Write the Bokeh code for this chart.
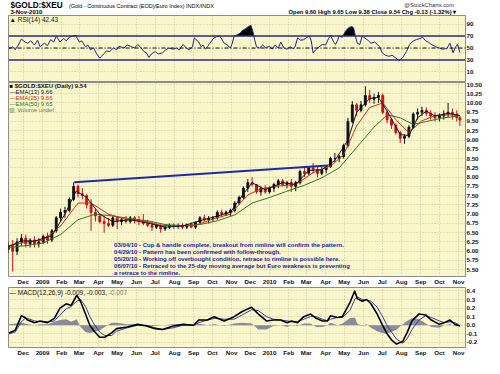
import numpy as np
import pandas as pd
from bokeh.plotting import figure
from bokeh.layouts import column
from bokeh.models import (Range1d, FixedTicker, Grid, Span, Label, NumeralTickFormatter,
                          CustomJSTickFormatter, ColumnDataSource)
from bokeh.embed import file_html
from bokeh.resources import INLINE

# ---------------- data ----------------
wk_dates = ["2008-11-07","2008-11-14","2008-11-21","2008-11-28","2008-12-05","2008-12-12","2008-12-19","2008-12-26",
            "2009-01-02","2009-01-09","2009-01-16","2009-01-23","2009-01-30","2009-02-06","2009-02-13","2009-02-20","2009-02-27",
            "2009-03-06","2009-03-13","2009-03-20","2009-03-27","2009-04-03","2009-04-10","2009-04-17","2009-04-24",
            "2009-05-01","2009-05-08","2009-05-15","2009-05-22","2009-05-29","2009-06-05","2009-06-12","2009-06-19","2009-06-26",
            "2009-07-03","2009-07-10","2009-07-17","2009-07-24","2009-07-31","2009-08-07","2009-08-14","2009-08-21","2009-08-28",
            "2009-09-04","2009-09-11","2009-09-18","2009-09-25","2009-10-02","2009-10-09","2009-10-16","2009-10-23","2009-10-30",
            "2009-11-06","2009-11-13","2009-11-20","2009-11-27","2009-12-04","2009-12-11","2009-12-18","2009-12-25",
            "2010-01-01","2010-01-08","2010-01-15","2010-01-22","2010-01-29","2010-02-05","2010-02-12","2010-02-19","2010-02-26",
            "2010-03-05","2010-03-12","2010-03-19","2010-03-26","2010-04-02","2010-04-09","2010-04-16","2010-04-23","2010-04-30",
            "2010-05-07","2010-05-14","2010-05-21","2010-05-28","2010-06-04","2010-06-11","2010-06-18","2010-06-25",
            "2010-07-02","2010-07-09","2010-07-16","2010-07-23","2010-07-30","2010-08-06","2010-08-13","2010-08-20","2010-08-27",
            "2010-09-03","2010-09-10","2010-09-17","2010-09-24","2010-10-01","2010-10-08","2010-10-15","2010-10-22","2010-10-29",
            "2010-11-03"]
wk_open = [6.05,6.15,6.00,6.25,6.35,6.20,6.30,6.20,
           6.25,6.40,6.30,6.55,6.90,7.05,7.10,7.40,7.75,
           7.55,7.50,7.25,7.05,6.95,6.80,6.75,6.70,
           6.90,6.80,6.85,6.80,6.90,6.85,6.80,6.75,6.70,
           6.65,6.70,6.60,6.65,6.70,6.68,6.70,6.65,6.72,
           6.65,6.78,6.90,6.85,6.88,6.90,7.05,7.00,7.05,
           7.10,7.30,7.45,7.70,7.85,7.80,7.60,7.70,
           7.60,7.70,7.80,7.90,7.80,7.85,7.75,7.85,8.15,
           8.10,8.25,8.20,8.10,8.20,8.28,8.50,8.50,8.55,
           8.85,9.50,9.95,9.80,9.95,10.20,10.10,10.15,
           10.20,9.75,9.55,9.40,9.20,9.05,9.10,9.35,9.70,
           9.75,9.80,9.72,9.65,9.60,9.65,9.70,9.75,9.70,
           9.60]
wk_high = [6.25,6.30,6.35,6.46,6.45,6.35,6.40,6.35,
           6.45,6.50,6.60,6.95,7.15,7.20,7.45,7.86,7.80,
           7.70,7.55,7.40,7.15,7.00,6.95,6.90,6.95,
           6.95,6.90,6.95,6.95,6.95,6.95,7.00,6.85,6.80,
           6.75,6.72,6.70,6.75,6.75,6.75,6.75,6.75,6.78,
           6.80,6.95,6.98,6.95,6.95,7.10,7.12,7.10,7.15,
           7.35,7.50,7.75,7.95,8.00,7.80,7.75,7.78,
           7.75,7.85,7.95,7.95,7.90,7.95,7.90,8.20,8.30,
           8.30,8.38,8.30,8.28,8.32,8.55,8.65,8.60,8.90,
           9.60,10.05,10.00,10.05,10.45,10.35,10.25,10.30,
           10.25,9.80,9.60,9.45,9.25,9.15,9.40,9.75,9.85,
           9.90,9.88,9.80,9.75,9.72,9.80,10.00,9.85,9.80,
           9.65]
wk_low = [5.95,5.45,5.90,6.15,6.10,6.10,6.10,6.10,
          6.20,6.20,6.25,6.50,6.80,6.90,7.05,7.35,7.45,
          7.40,7.15,6.55,6.80,6.75,6.50,6.65,6.65,
          6.60,6.70,6.75,6.75,6.75,6.70,6.70,6.65,6.55,
          6.60,6.50,6.55,6.60,6.60,6.60,6.60,6.60,6.62,
          6.60,6.75,6.80,6.75,6.80,6.85,6.92,6.95,6.95,
          7.05,7.25,7.40,7.60,7.75,7.55,7.50,7.55,
          7.55,7.60,7.70,7.75,7.70,7.60,7.62,7.80,8.00,
          8.05,8.10,8.00,8.05,8.10,8.25,8.40,8.40,8.50,
          8.80,9.45,9.65,9.75,9.90,10.00,9.98,10.00,
          9.70,9.45,9.30,9.15,8.92,8.90,9.05,9.30,9.55,
          9.65,9.65,9.55,9.50,9.50,9.55,9.60,9.55,9.50,
          9.38]
wk_close = [6.15,6.00,6.25,6.35,6.20,6.30,6.20,6.25,
            6.40,6.30,6.55,6.90,7.05,7.10,7.40,7.75,7.55,
            7.50,7.25,7.05,6.95,6.80,6.75,6.70,6.90,
            6.80,6.85,6.80,6.90,6.85,6.80,6.75,6.70,6.65,
            6.70,6.60,6.65,6.70,6.68,6.70,6.65,6.72,6.65,
            6.78,6.90,6.85,6.88,6.90,7.05,7.00,7.05,7.10,
            7.30,7.45,7.70,7.85,7.80,7.60,7.70,7.60,
            7.70,7.80,7.90,7.80,7.85,7.75,7.85,8.15,8.10,
            8.25,8.20,8.10,8.20,8.28,8.50,8.50,8.55,8.85,
            9.50,9.95,9.80,9.95,10.20,10.10,10.15,10.20,
            9.75,9.55,9.40,9.20,9.05,9.10,9.35,9.70,9.75,
            9.80,9.72,9.65,9.60,9.65,9.70,9.75,9.70,9.60,
            9.54]

ema13_dates = ["2008-11-07","2008-11-28","2008-12-19","2009-01-16","2009-02-06","2009-02-24","2009-03-13","2009-04-03",
               "2009-04-24","2009-05-22","2009-06-19","2009-07-17","2009-08-14","2009-09-11","2009-10-09","2009-10-30",
               "2009-11-20","2009-12-04","2009-12-25","2010-01-22","2010-02-12","2010-03-05","2010-03-26","2010-04-16",
               "2010-05-07","2010-05-21","2010-06-11","2010-06-25","2010-07-09","2010-07-30","2010-08-13","2010-08-27",
               "2010-09-10","2010-09-24","2010-10-15","2010-11-03"]
ema13 = [6.12,6.28,6.27,6.42,7.00,7.62,7.45,7.00,
         6.80,6.85,6.76,6.65,6.68,6.82,6.95,7.05,
         7.55,7.85,7.66,7.85,7.80,8.18,8.20,8.45,
         9.00,9.75,10.12,10.15,9.78,9.15,9.12,9.60,
         9.78,9.65,9.72,9.66]
ema25_dates = ["2008-11-07","2008-12-05","2009-01-02","2009-01-30","2009-02-27","2009-03-20","2009-04-17","2009-05-15",
               "2009-06-12","2009-07-10","2009-08-07","2009-09-04","2009-10-02","2009-10-30","2009-11-27","2009-12-18",
               "2010-01-15","2010-02-12","2010-03-12","2010-04-09","2010-04-30","2010-05-21","2010-06-11","2010-07-02",
               "2010-07-23","2010-08-13","2010-09-03","2010-09-24","2010-10-15","2010-11-03"]
ema25 = [6.15,6.25,6.30,6.68,7.30,7.30,7.00,6.86,
         6.82,6.70,6.68,6.70,6.87,7.00,7.52,7.68,
         7.76,7.80,8.12,8.30,8.60,9.38,9.88,10.00,
         9.55,9.20,9.52,9.66,9.68,9.66]
ema50_dates = ["2008-11-07","2008-12-05","2009-01-02","2009-01-30","2009-02-27","2009-03-27","2009-04-24","2009-05-22",
               "2009-06-19","2009-07-17","2009-08-14","2009-09-11","2009-10-09","2009-11-06","2009-12-04","2010-01-01",
               "2010-01-29","2010-02-26","2010-03-26","2010-04-23","2010-05-21","2010-06-18","2010-07-09","2010-07-30",
               "2010-08-20","2010-09-10","2010-10-08","2010-11-03"]
ema50 = [6.10,6.15,6.22,6.45,6.85,7.00,6.95,6.88,
         6.82,6.72,6.69,6.72,6.82,6.98,7.30,7.45,
         7.62,7.78,7.98,8.25,8.80,9.35,9.68,9.60,
         9.42,9.50,9.60,9.65]

rim_dates = ["2009-02-21", "2010-04-05"]
rim_values = [7.86, 8.31]

notes = ["03/04/10 - Cup & handle complete, breakout from rimline will confirm the pattern.",
         "04/29/10 - Pattern has been confirmed with follow-through.",
         "05/20/10 - Working off overbought condition, retrace to rimline is possible here.",
         "06/07/10 - Retraced to the 25-day moving average but Euro weakness is preventing",
         "a retrace to the rimline."]
note_date = "2009-04-26"
note_levels = [6.18, 5.985, 5.79, 5.595, 5.40]

rsi_dates = ["2008-11-08","2008-11-14","2008-11-18","2008-11-23","2008-11-28","2008-12-04","2008-12-08","2008-12-13","2008-12-19","2008-12-24","2008-12-28",
             "2009-01-04","2009-01-09","2009-01-14","2009-01-19","2009-01-23","2009-01-29",
             "2009-02-04","2009-02-08","2009-02-13","2009-02-18","2009-02-23","2009-02-26",
             "2009-03-01","2009-03-05","2009-03-11","2009-03-15","2009-03-19","2009-03-24","2009-03-29",
             "2009-04-03","2009-04-06","2009-04-09","2009-04-14","2009-04-19","2009-04-25","2009-04-30",
             "2009-05-04","2009-05-12","2009-05-17","2009-05-22","2009-05-29",
             "2009-06-03","2009-06-07","2009-06-13","2009-06-17","2009-06-21","2009-06-25",
             "2009-07-01","2009-07-06","2009-07-13","2009-07-18","2009-07-23","2009-07-30",
             "2009-08-04","2009-08-09","2009-08-15","2009-08-20","2009-08-25","2009-08-30",
             "2009-09-02","2009-09-05","2009-09-09","2009-09-13","2009-09-16","2009-09-20","2009-09-23","2009-09-27",
             "2009-10-02","2009-10-07","2009-10-12","2009-10-15","2009-10-20","2009-10-25","2009-10-30",
             "2009-11-02","2009-11-05","2009-11-10","2009-11-15","2009-11-18","2009-11-23","2009-11-28",
             "2009-12-02","2009-12-05","2009-12-08","2009-12-11","2009-12-16","2009-12-21","2009-12-26",
             "2010-01-01","2010-01-05","2010-01-10","2010-01-15","2010-01-19","2010-01-24","2010-01-29",
             "2010-02-03","2010-02-08","2010-02-11","2010-02-15","2010-02-20","2010-02-25",
             "2010-03-02","2010-03-06","2010-03-09","2010-03-12","2010-03-17","2010-03-23","2010-03-27",
             "2010-04-01","2010-04-06","2010-04-09","2010-04-14","2010-04-17","2010-04-20","2010-04-23","2010-04-28",
             "2010-05-03","2010-05-08","2010-05-13","2010-05-16","2010-05-19","2010-05-22","2010-05-26","2010-05-30",
             "2010-06-04","2010-06-08","2010-06-13","2010-06-19","2010-06-23","2010-06-27",
             "2010-07-01","2010-07-06","2010-07-12","2010-07-17","2010-07-23","2010-07-28",
             "2010-08-03","2010-08-09","2010-08-14","2010-08-20","2010-08-25","2010-08-31",
             "2010-09-04","2010-09-09","2010-09-13","2010-09-18","2010-09-25",
             "2010-10-01","2010-10-06","2010-10-13","2010-10-18","2010-10-23","2010-10-26","2010-10-30",
             "2010-11-03"]
rsi_values = [49,52,47,55,65,60,58,62,55,63,52,
              58,54,64,60,70,60,
              66,62,68,70,71,66,
              60,62,52,55,47,50,40,
              33,36,40,45,44,50,47,
              53,50,55,53,50,
              56,52,44,42,34,40,
              44,40,42,47,50,48,
              50,47,56,50,47,52,
              67,64,60,52,55,48,52,58,
              65,69,70,67,58,55,50,
              58,70,72,75,79,82,86,
              88,78,64,52,50,55,50,
              53,48,55,50,60,50,48,
              52,49,52,67,63,64,
              68,70,62,42,48,53,56,
              55,66,71,60,56,62,70,68,
              78,84,86,84,70,58,56,70,
              66,63,58,60,56,52,
              42,38,36,38,33,29,
              34,44,56,62,64,66,
              68,62,60,56,52,
              50,48,49,58,42,50,56,
              42.43]

macd_dates = ["2008-11-08","2008-11-18","2008-11-28","2008-12-04","2008-12-08","2008-12-19","2008-12-28",
              "2009-01-09","2009-01-20","2009-01-29","2009-02-08","2009-02-16","2009-02-25",
              "2009-03-03","2009-03-11","2009-03-18","2009-03-25","2009-04-03","2009-04-11","2009-04-22","2009-04-30",
              "2009-05-17","2009-06-03","2009-06-17","2009-07-01","2009-07-13","2009-07-30","2009-08-15",
              "2009-09-01","2009-09-09","2009-09-23","2009-10-04","2009-10-20","2009-11-05","2009-11-18",
              "2009-12-03","2009-12-14","2009-12-27",
              "2010-01-07","2010-01-19","2010-01-29","2010-02-05","2010-02-15","2010-02-25",
              "2010-03-08","2010-03-17","2010-03-27","2010-04-04","2010-04-09","2010-04-20","2010-04-28",
              "2010-05-10","2010-05-18","2010-05-22","2010-05-30","2010-06-06","2010-06-13","2010-06-23",
              "2010-07-01","2010-07-08","2010-07-16","2010-07-24","2010-08-03","2010-08-10","2010-08-18","2010-08-29",
              "2010-09-09","2010-09-18","2010-10-01","2010-10-09","2010-10-18","2010-10-26","2010-11-03"]
macd_line = [-0.09,-0.06,0.11,0.09,0.06,0.03,0.05,
             0.03,0.08,0.20,0.25,0.23,0.35,
             0.28,0.13,0.00,-0.07,-0.14,-0.14,-0.09,-0.04,
             -0.02,0.01,-0.01,-0.04,-0.05,-0.01,0.01,
             0.00,0.06,0.06,0.10,0.05,0.10,0.16,
             0.21,0.13,0.05,
             0.06,0.06,0.03,0.05,0.03,0.10,
             0.13,0.08,0.05,0.05,0.11,0.09,0.10,
             0.26,0.40,0.31,0.28,0.30,0.25,0.13,
             0.01,-0.09,-0.17,-0.22,-0.19,-0.09,0.05,0.13,
             0.12,0.06,0.01,0.03,0.06,0.01,-0.009]
macd_signal = [-0.10,-0.08,0.04,0.08,0.08,0.05,0.04,
               0.04,0.05,0.12,0.19,0.22,0.28,
               0.30,0.22,0.10,0.01,-0.08,-0.12,-0.12,-0.07,
               -0.03,0.00,0.00,-0.03,-0.05,-0.03,0.00,
               0.00,0.03,0.06,0.08,0.07,0.07,0.12,
               0.18,0.17,0.10,
               0.07,0.06,0.05,0.04,0.04,0.07,
               0.10,0.10,0.07,0.05,0.07,0.09,0.09,
               0.17,0.30,0.33,0.30,0.29,0.28,0.21,
               0.11,0.01,-0.08,-0.16,-0.21,-0.16,-0.05,0.06,
               0.11,0.09,0.05,0.03,0.04,0.03,-0.003]
macd_hist = [0.01,0.02,0.03,0.02,0.01,0.00,0.01,
             0.01,0.04,0.06,0.07,0.04,0.07,
             -0.02,-0.08,-0.09,-0.08,-0.06,-0.02,0.03,0.03,
             0.01,0.01,-0.01,-0.01,0.00,0.01,0.01,
             0.00,0.02,0.00,0.01,-0.01,0.02,0.03,
             0.02,-0.05,-0.05,
             -0.01,0.00,-0.02,0.00,-0.01,0.02,
             0.02,-0.02,-0.02,0.00,0.03,0.00,0.02,
             0.08,0.09,0.02,-0.01,0.01,-0.03,-0.07,
             -0.09,-0.10,-0.08,-0.05,0.01,0.05,0.08,0.07,
             0.02,-0.02,-0.03,0.00,0.01,-0.01,-0.007]

price_ticks = [5.50,5.75,6.00,6.25,6.50,6.75,7.00,7.25,7.50,7.75,8.00,8.25,8.50,8.75,9.00,9.25,9.50,9.75,10.00,10.25,10.50]
rsi_ticks = [10,30,50,70,90]
macd_ticks = [-0.2,-0.1,0.0,0.1,0.2,0.3,0.4]

# ---------------- styling / layout ----------------
W = 484
BL, BR = 8, 17
FW = W - BL - BR
BG = "#FAF6CC"
GRID = "#CFC7A0"
FONT = "Liberation Sans"

x_start = pd.Timestamp("2008-11-07 06:00")
x_end = pd.Timestamp("2010-11-12")
xs_ms = x_start.value / 1e6
xe_ms = x_end.value / 1e6
xr = Range1d(start=x_start, end=x_end)
months = pd.date_range("2008-12-01", "2010-11-01", freq="MS")
month_ms = [m.value / 1e6 for m in months]

month_fmt = CustomJSTickFormatter(code="""
const d = new Date(tick);
const m = d.getUTCMonth();
const names = ['Jan','Feb','Mar','Apr','May','Jun','Jul','Aug','Sep','Oct','Nov','Dec'];
return m == 0 ? String(d.getUTCFullYear()) : names[m];
""")


def dt(a):
    return pd.to_datetime(pd.Series(a))


def xo(off):
    return xs_ms + off * (xe_ms - xs_ms) / FW


def make_panel(height, y0, y1, fh, top, bottom, ticks, fmt, xaxis):
    p = figure(width=W, height=height, x_range=xr, y_range=Range1d(y0, y1),
               x_axis_type="datetime", x_axis_location="below" if xaxis else None,
               y_axis_location="right", output_backend="svg", toolbar_location=None,
               min_border_left=BL, min_border_right=BR, min_border_top=top, min_border_bottom=bottom,
               background_fill_color=BG, border_fill_color="white",
               outline_line_color="#8c8c8c", outline_line_width=1)
    p.grid.visible = False
    p.add_layout(Grid(dimension=0, ticker=FixedTicker(ticks=month_ms), grid_line_color=GRID,
                      grid_line_dash="1 2", grid_line_width=1))
    p.add_layout(Grid(dimension=1, ticker=FixedTicker(ticks=ticks), grid_line_color=GRID,
                      grid_line_dash="1 2", grid_line_width=1))
    ax = p.yaxis[0]
    ax.ticker = FixedTicker(ticks=ticks)
    ax.formatter = NumeralTickFormatter(format=fmt)
    ax.axis_line_color = None
    ax.major_tick_line_color = None
    ax.minor_tick_line_color = None
    ax.major_tick_out = 0
    ax.major_tick_in = 0
    ax.major_label_standoff = 1
    ax.major_label_text_font = FONT
    ax.major_label_text_font_size = "6.2px"
    ax.major_label_text_font_style = "bold"
    ax.major_label_text_color = "#111111"
    if xaxis:
        xa = p.xaxis[0]
        xa.ticker = FixedTicker(ticks=month_ms)
        xa.formatter = month_fmt
        xa.axis_line_color = None
        xa.major_tick_line_color = None
        xa.minor_tick_line_color = None
        xa.major_tick_out = 0
        xa.major_tick_in = 0
        xa.major_label_standoff = 1
        xa.major_label_text_font = FONT
        xa.major_label_text_font_size = "6.2px"
        xa.major_label_text_font_style = "bold"
        xa.major_label_text_color = "#111111"
    p._fh = fh
    return p


def yo(p, off):
    r = p.y_range
    return r.end - off * (r.end - r.start) / p._fh


def lab(p, xoff, yoff, text, color="#111111", size="6px", style="normal", align="left"):
    p.add_layout(Label(x=xo(xoff), y=yo(p, yoff), text=text, text_color=color, text_font=FONT,
                       text_font_size=size, text_font_style=style, text_baseline="middle",
                       text_align=align))

# ---------------- header ----------------
HH = 15
hdr = figure(width=W, height=HH, x_range=Range1d(0, W), y_range=Range1d(HH, 0),
             x_axis_location=None, y_axis_location=None, min_border=0, outline_line_color=None,
             background_fill_color="white", border_fill_color="white", toolbar_location=None,
             output_backend="svg")
hdr.grid.visible = False


def hlab(x, y, text, size, style="normal", align="left", color="#000000"):
    hdr.add_layout(Label(x=x, y=y, text=text, text_font=FONT, text_font_size=size, text_font_style=style,
                         text_baseline="middle", text_align=align, text_color=color))

hlab(2, 4.5, "$GOLD:$XEU", "8.2px", "bold")
hlab(64, 5, "(Gold - Continuous Contract (EOD)/Euro Index)  INDX/INDX", "5.5px")
hlab(2, 11.5, "3-Nov-2010", "6px", "bold")
hlab(472, 4, "@StockCharts.com", "5.8px", "normal", "right", "#333333")
hlab(481, 11.5, "Open 9.60  High 9.65  Low 9.38  Close 9.54  Chg -0.13 (-1.32%) \u25BE", "5.8px", "bold", "right")

# ---------------- RSI panel ----------------
rsi = make_panel(67, -7.85, 104.5, 67, 0, 0, rsi_ticks, "0", False)
rsi_x = dt(rsi_dates)
rsi_v = np.array(rsi_values, dtype=float)
rsi.varea(x=rsi_x, y1=70, y2=np.maximum(rsi_v, 70), fill_color="black")
rsi.add_layout(Span(location=70, dimension="width", line_color="#2b2b8c", line_width=1.5))
rsi.add_layout(Span(location=30, dimension="width", line_color="#2b2b8c", line_width=1.5))
rsi.add_layout(Span(location=50, dimension="width", line_color="#111111", line_width=1, line_dash="4 2 1 2"))
rsi.line(x=rsi_x, y=rsi_v, line_color="#23237a", line_width=1)
lab(rsi, 1, 3.5, "\u25B2 RSI(14) 42.43", size="6.5px")

# ---------------- price panel ----------------
price = make_panel(205, 5.318, 10.552, 197, 0, 8, price_ticks, "0.00", True)
wd = dt(wk_dates)
o = np.array(wk_open); c = np.array(wk_close)
cols = ["#111111" if cc >= oo else "#cc1010" for oo, cc in zip(o, c)]
src = ColumnDataSource(dict(x=wd, lo=wk_low, hi=wk_high, top=np.maximum(o, c), bot=np.minimum(o, c), col=cols))
price.segment(x0="x", y0="lo", x1="x", y1="hi", line_color="col", line_width=1, source=src)
price.vbar(x="x", width=3.0 * 86400000, top="top", bottom="bot", fill_color="col", line_color="col", source=src)
price.line(x=dt(ema50_dates), y=ema50, line_color="#2d7a16", line_width=1)
price.line(x=dt(ema25_dates), y=ema25, line_color="#d42a10", line_width=1)
price.line(x=dt(ema13_dates), y=ema13, line_color="#101030", line_width=1)
price.line(x=dt(rim_dates), y=rim_values, line_color="#1c2aa8", line_width=2)

lab(price, 1, 4, "\u25A0 $GOLD:$XEU (Daily) 9.54", size="6px", style="bold")
lab(price, 1, 10, "\u2014EMA(13) 9.66", color="#101030", size="6px")
lab(price, 1, 16, "\u2014EMA(25) 9.66", color="#d42a10", size="6px")
lab(price, 1, 22, "\u2014EMA(50) 9.65", color="#2d7a16", size="6px")
lab(price, 1, 28, "\u25A5 Volume undef", color="#667a55", size="6px")

nd = pd.Timestamp(note_date).value / 1e6
for t, lvl in zip(notes, note_levels):
    price.add_layout(Label(x=nd, y=lvl, text=t, text_color="#1a1aa6", text_font=FONT,
                           text_font_size="6px", text_font_style="bold", text_baseline="middle"))

# ---------------- MACD panel ----------------
macd = make_panel(71, -0.26, 0.44, 62, 0, 9, macd_ticks, "0.0", True)
mx = dt(macd_dates)
macd.varea(x=mx, y1=0, y2=macd_hist, fill_color="#8a8a98")
macd.line(x=mx, y=macd_signal, line_color="#3a3aa0", line_width=1)
macd.line(x=mx, y=macd_line, line_color="#000000", line_width=1.6)
lab(macd, 1, 5, "\u2014 MACD(12,26,9) -0.009, -0.003,", size="6.5px")
lab(macd, 100.5, 5, "-0.007", color="#777777", size="6.5px")

layout = column(hdr, rsi, price, macd, spacing=0)
open("out.html", "w").write(file_html(layout, INLINE))
